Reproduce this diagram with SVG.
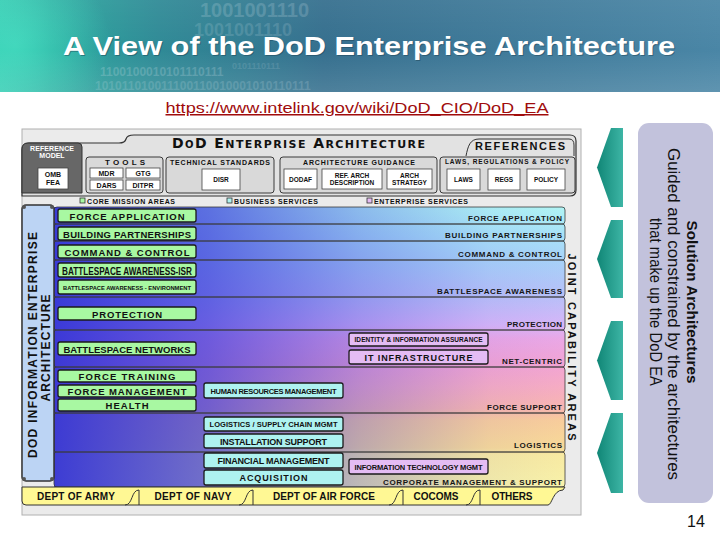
<svg xmlns="http://www.w3.org/2000/svg" width="720" height="540" viewBox="0 0 720 540">
<defs>
<linearGradient id="banner" x1="0" y1="0" x2="1" y2="0">
<stop offset="0" stop-color="#2fc6ae"/><stop offset="0.07" stop-color="#29a89e"/><stop offset="0.22" stop-color="#2f8a96"/><stop offset="0.45" stop-color="#356f8e"/><stop offset="1" stop-color="#4a86a6"/>
</linearGradient>
<linearGradient id="bannerV" x1="0" y1="0" x2="0" y2="1">
<stop offset="0" stop-color="#ffffff" stop-opacity="0.06"/><stop offset="0.55" stop-color="#ffffff" stop-opacity="0"/><stop offset="1" stop-color="#ffffff" stop-opacity="0.12"/>
</linearGradient>
<radialGradient id="swirl" gradientUnits="userSpaceOnUse" cx="15" cy="45" r="95">
<stop offset="0" stop-color="#45dcc0" stop-opacity="0.85"/><stop offset="1" stop-color="#45dcc0" stop-opacity="0"/>
</radialGradient>
<linearGradient id="bandV" gradientUnits="userSpaceOnUse" x1="0" y1="207" x2="0" y2="487">
<stop offset="0" stop-color="#b0f4f4"/><stop offset="0.1" stop-color="#a8e2f8"/><stop offset="0.2" stop-color="#a8d0f8"/><stop offset="0.32" stop-color="#b8c0f8"/><stop offset="0.42" stop-color="#d6b6f8"/><stop offset="0.47" stop-color="#eaa8e6"/><stop offset="0.56" stop-color="#f2a4d4"/><stop offset="0.64" stop-color="#f6acc4"/><stop offset="0.72" stop-color="#f8b6b0"/><stop offset="0.76" stop-color="#f8cc9c"/><stop offset="0.86" stop-color="#f8da98"/><stop offset="0.885" stop-color="#f8eaa2"/><stop offset="1" stop-color="#f8f2aa"/>
</linearGradient>
<linearGradient id="bandH" gradientUnits="userSpaceOnUse" x1="54" y1="0" x2="565" y2="0">
<stop offset="0" stop-color="#3333d6" stop-opacity="0.95"/><stop offset="0.3" stop-color="#3838d8" stop-opacity="0.7"/><stop offset="0.6" stop-color="#3838d8" stop-opacity="0.3"/><stop offset="0.85" stop-color="#3838d8" stop-opacity="0.05"/><stop offset="1" stop-color="#3838d8" stop-opacity="0"/>
</linearGradient>
<linearGradient id="arrowG" x1="0" y1="0" x2="1" y2="0">
<stop offset="0" stop-color="#108676"/><stop offset="1" stop-color="#3db5a5"/>
</linearGradient>
<style>
.f{font-family:"Liberation Sans",Arial,Helvetica,sans-serif}
.b{font-family:"Liberation Sans",Arial,Helvetica,sans-serif;font-weight:bold;fill:#111;text-anchor:middle}
.bl{font-family:"Liberation Sans",Arial,Helvetica,sans-serif;font-weight:bold;fill:#161616;font-size:8px;text-anchor:end}
.bin{font-family:"Liberation Sans",Arial,sans-serif;font-weight:bold;fill:#d4e4ec}
.grp{fill:#d9d9d9;stroke:#3a3a3a;stroke-width:1}
.wb{fill:#ffffff;stroke:#444;stroke-width:0.8}
.gb{fill:#a8f8a2;stroke:#1a1a1a;stroke-width:1.3}
.cb{fill:#aef2f0;stroke:#1a1a1a;stroke-width:1.3}
.pb{fill:#e4bcf4;stroke:#1a1a1a;stroke-width:1.3}
.band{fill:none;stroke:#3a3a3a;stroke-width:0.8}
.tab{fill:none;stroke:#333;stroke-width:1}
</style>
</defs>

<!-- header banner -->
<g id="banner-bg">
<rect x="0" y="0" width="720" height="92" fill="url(#banner)"/>
<rect x="0" y="0" width="720" height="92" fill="url(#swirl)"/>
<rect x="0" y="0" width="720" height="92" fill="url(#bannerV)"/>
<text class="bin" x="200" y="17" font-size="20" opacity="0.2">1001001110</text>
<text class="bin" x="194" y="35.5" font-size="18" opacity="0.16">1001001110</text>
<text class="bin" x="232" y="68.5" font-size="9" opacity="0.14">0101110111</text>
<text class="bin" x="100" y="75.5" font-size="12" opacity="0.22">1100100010101110111</text>
<text class="bin" x="95" y="89.5" font-size="12" opacity="0.18">101011010011100110010001010110111</text>
</g>
<g id="title">
<text class="f" x="370" y="56" font-size="26" font-weight="bold" fill="#1d3f50" opacity="0.45" text-anchor="middle" textLength="612" lengthAdjust="spacingAndGlyphs">A View of the DoD Enterprise Architecture</text>
<text class="f" x="369" y="55" font-size="26" font-weight="bold" fill="#ffffff" text-anchor="middle" textLength="612" lengthAdjust="spacingAndGlyphs">A View of the DoD Enterprise Architecture</text>
</g>
<g id="url">
<text class="f" x="357" y="113" font-size="15" fill="#a00c0c" text-anchor="middle" text-decoration="underline" textLength="383" lengthAdjust="spacingAndGlyphs">https://www.intelink.gov/wiki/DoD_CIO/DoD_EA</text>
</g>

<!-- main diagram frame -->
<g id="ea-frame">
<rect x="22" y="129" width="559" height="386" fill="#ebebeb" stroke="#b0b0b0" stroke-width="1"/>
<path d="M22,196 V150 Q22,143 29,143 H119 Q125,143 126,139 Q127,135 134,135 H570 Q576,135 576,141 V190 Q576,196 570,196 Z" fill="#e2e2e2" stroke="#333" stroke-width="1.2"/>
<path d="M466,156 C468,146 470,139 479,139 H569 Q574,139 574,145 V156" fill="none" stroke="#333" stroke-width="1"/>
<text class="b" x="172" y="148" font-size="14" textLength="253" lengthAdjust="spacing" style="font-family:'DejaVu Sans','Liberation Sans',sans-serif;text-anchor:start">D<tspan style="font-variant:small-caps">o</tspan>D E<tspan font-size="11">NTERPRISE</tspan> A<tspan font-size="11">RCHITECTURE</tspan></text>
<text class="b" x="520" y="150" font-size="11" textLength="90" lengthAdjust="spacing">REFERENCES</text>
</g>

<g id="reference-model">
<path d="M22,193 V149 Q22,143 28,143 H78 Q82,143 82,147 V193 Z" fill="#676767" stroke="#333" stroke-width="1"/>
<text class="b" x="52" y="151" font-size="7" style="fill:#fff" textLength="44" lengthAdjust="spacing">REFERENCE</text>
<text class="b" x="52" y="158" font-size="7" style="fill:#fff">MODEL</text>
<rect x="38" y="168" width="30" height="21" class="wb"/>
<text class="b" x="53" y="177" font-size="7">OMB</text>
<text class="b" x="53" y="185" font-size="7">FEA</text>
</g>

<g id="tools">
<rect x="86" y="157" width="77" height="36" rx="3" class="grp"/>
<text class="b" x="125" y="164.5" font-size="8" textLength="40" lengthAdjust="spacing">TOOLS</text>
<rect x="90" y="168" width="33" height="10" class="wb"/><text class="b" x="106.5" y="175.5" font-size="7">MDR</text>
<rect x="126" y="168" width="34" height="10" class="wb"/><text class="b" x="143" y="175.5" font-size="7">GTG</text>
<rect x="90" y="180" width="33" height="10" class="wb"/><text class="b" x="106.5" y="187.5" font-size="7">DARS</text>
<rect x="126" y="180" width="34" height="10" class="wb"/><text class="b" x="143" y="187.5" font-size="7">DITPR</text>
</g>

<g id="technical-standards">
<rect x="166" y="157" width="108" height="36" rx="3" class="grp"/>
<text class="b" x="220" y="164.5" font-size="7" textLength="100" lengthAdjust="spacing">TECHNICAL STANDARDS</text>
<rect x="202" y="169" width="38" height="21" class="wb"/><text class="b" x="221" y="182" font-size="6.5">DISR</text>
</g>

<g id="architecture-guidance">
<rect x="280" y="157" width="157" height="36" rx="3" class="grp"/>
<text class="b" x="359" y="164.5" font-size="7" textLength="112" lengthAdjust="spacing">ARCHITECTURE GUIDANCE</text>
<rect x="284" y="169" width="33" height="20" class="wb"/><text class="b" x="300.5" y="181.5" font-size="6.5">DODAF</text>
<rect x="322" y="169" width="60" height="20" class="wb"/><text class="b" x="352" y="177.5" font-size="6.5">REF. ARCH</text><text class="b" x="352" y="185" font-size="6.5">DESCRIPTION</text>
<rect x="387" y="169" width="45" height="20" class="wb"/><text class="b" x="409.5" y="177.5" font-size="6.5">ARCH</text><text class="b" x="409.5" y="185" font-size="6.5">STRATEGY</text>
</g>

<g id="laws-regulations-policy">
<rect x="440" y="157" width="135" height="36" rx="3" class="grp"/>
<text class="b" x="507" y="164" font-size="6.5" textLength="124" lengthAdjust="spacing">LAWS, REGULATIONS &amp; POLICY</text>
<rect x="447" y="169" width="33" height="21" class="wb"/><text class="b" x="463.5" y="182" font-size="6.5">LAWS</text>
<rect x="488" y="169" width="32" height="21" class="wb"/><text class="b" x="504" y="182" font-size="6.5">REGS</text>
<rect x="527" y="169" width="38" height="21" class="wb"/><text class="b" x="546" y="182" font-size="6.5">POLICY</text>
</g>

<g id="legend">
<rect x="80" y="198" width="5" height="5" fill="#a8f8a2" stroke="#333" stroke-width="0.8"/>
<text class="b" x="87" y="204" font-size="7" style="text-anchor:start" textLength="88" lengthAdjust="spacing">CORE MISSION AREAS</text>
<rect x="227" y="198" width="5" height="5" fill="#aef2f0" stroke="#333" stroke-width="0.8"/>
<text class="b" x="234" y="204" font-size="7" style="text-anchor:start" textLength="84" lengthAdjust="spacing">BUSINESS SERVICES</text>
<rect x="367" y="198" width="5" height="5" fill="#e4bcf4" stroke="#333" stroke-width="0.8"/>
<text class="b" x="374" y="204" font-size="7" style="text-anchor:start" textLength="94" lengthAdjust="spacing">ENTERPRISE SERVICES</text>
</g>

<!-- joint capability area bands -->
<g id="jca-bands">
<rect x="54" y="207" width="511" height="280" fill="url(#bandV)"/>
<rect x="54" y="207" width="511" height="280" fill="url(#bandH)"/>
<rect x="54" y="207" width="511" height="17" rx="3" class="band"/>
<rect x="54" y="224" width="511" height="17" rx="3" class="band"/>
<rect x="54" y="241" width="511" height="19" rx="3" class="band"/>
<rect x="54" y="260" width="511" height="37" rx="3" class="band"/>
<rect x="54" y="297" width="511" height="33" rx="3" class="band"/>
<rect x="54" y="330" width="511" height="37" rx="3" class="band"/>
<rect x="54" y="367" width="511" height="46" rx="3" class="band"/>
<rect x="54" y="413" width="511" height="39" rx="3" class="band"/>
<rect x="54" y="452" width="511" height="35" rx="3" class="band"/>
<text class="bl" x="562" y="221" textLength="94" lengthAdjust="spacing">FORCE APPLICATION</text>
<text class="bl" x="562" y="238" textLength="117" lengthAdjust="spacing">BUILDING PARTNERSHIPS</text>
<text class="bl" x="562" y="257" textLength="104" lengthAdjust="spacing">COMMAND &amp; CONTROL</text>
<text class="bl" x="562" y="294" textLength="125" lengthAdjust="spacing">BATTLESPACE AWARENESS</text>
<text class="bl" x="562" y="327" textLength="55" lengthAdjust="spacing">PROTECTION</text>
<text class="bl" x="562" y="364" textLength="60" lengthAdjust="spacing">NET-CENTRIC</text>
<text class="bl" x="562" y="410" textLength="75" lengthAdjust="spacing">FORCE SUPPORT</text>
<text class="bl" x="562" y="448" textLength="48" lengthAdjust="spacing">LOGISTICS</text>
<text class="bl" x="562" y="485" textLength="179" lengthAdjust="spacing">CORPORATE MANAGEMENT &amp; SUPPORT</text>
</g>

<g id="jca-label">
<text class="b" transform="translate(568,347) rotate(90)" font-size="11" textLength="187" lengthAdjust="spacing">JOINT CAPABILITY AREAS</text>
</g>

<g id="diea-bar">
<rect x="22" y="205" width="32" height="276" rx="4" fill="#bcd4f4" stroke="#333" stroke-width="1.5"/>
<circle cx="24" cy="207" r="2" fill="#555"/><circle cx="52" cy="207" r="2" fill="#555"/>
<circle cx="24" cy="479" r="2" fill="#555"/><circle cx="52" cy="479" r="2" fill="#555"/>
<text class="b" transform="translate(37,345) rotate(-90)" font-size="12" textLength="226" lengthAdjust="spacing">DOD INFORMATION ENTERPRISE</text>
<text class="b" transform="translate(50,348) rotate(-90)" font-size="12" textLength="107" lengthAdjust="spacing">ARCHITECTURE</text>
</g>

<!-- core mission areas -->
<g id="cma-force-application"><rect x="58" y="209" width="138" height="13" rx="2" class="gb"/><text class="b" x="127" y="219.5" font-size="9.5" textLength="115" lengthAdjust="spacing">FORCE APPLICATION</text></g>
<g id="cma-building-partnerships"><rect x="58" y="227" width="138" height="13" rx="2" class="gb"/><text class="b" x="127" y="237.5" font-size="9.5" textLength="128" lengthAdjust="spacing">BUILDING PARTNERSHIPS</text></g>
<g id="cma-command-control"><rect x="58" y="245" width="138" height="13" rx="2" class="gb"/><text class="b" x="127" y="255.5" font-size="9.5" textLength="125" lengthAdjust="spacing">COMMAND &amp; CONTROL</text></g>
<g id="cma-ba-isr"><rect x="58" y="263" width="138" height="14" rx="2" class="gb"/><text class="b" x="127" y="274.5" font-size="11" textLength="130" lengthAdjust="spacingAndGlyphs">BATTLESPACE AWARENESS-ISR</text></g>
<g id="cma-ba-env"><rect x="58" y="280" width="138" height="14" rx="2" class="gb"/><text class="b" x="127" y="289.5" font-size="6" textLength="128" lengthAdjust="spacingAndGlyphs">BATTLESPACE AWARENESS - ENVIRONMENT</text></g>
<g id="cma-protection"><rect x="58" y="307" width="138" height="13" rx="2" class="gb"/><text class="b" x="127" y="317.5" font-size="9.5" textLength="70" lengthAdjust="spacing">PROTECTION</text></g>
<g id="cma-battlespace-networks"><rect x="58" y="342" width="138" height="13" rx="2" class="gb"/><text class="b" x="127" y="352.5" font-size="9.5" textLength="127" lengthAdjust="spacing">BATTLESPACE NETWORKS</text></g>
<g id="cma-force-training"><rect x="58" y="370" width="138" height="12" rx="2" class="gb"/><text class="b" x="127" y="380" font-size="9.5" textLength="97" lengthAdjust="spacing">FORCE TRAINING</text></g>
<g id="cma-force-management"><rect x="58" y="385" width="138" height="12" rx="2" class="gb"/><text class="b" x="127" y="395" font-size="9.5" textLength="119" lengthAdjust="spacing">FORCE MANAGEMENT</text></g>
<g id="cma-health"><rect x="58" y="399" width="138" height="12" rx="2" class="gb"/><text class="b" x="127" y="409" font-size="9.5" textLength="43" lengthAdjust="spacing">HEALTH</text></g>

<!-- business services -->
<g id="bs-hrm"><rect x="204" y="383" width="139" height="15" rx="2" class="cb"/><text class="b" x="273.5" y="393.5" font-size="7.5" textLength="126" lengthAdjust="spacing">HUMAN RESOURCES MANAGEMENT</text></g>
<g id="bs-logistics"><rect x="204" y="417" width="139" height="14" rx="2" class="cb"/><text class="b" x="273.5" y="427" font-size="7.5" textLength="128" lengthAdjust="spacing">LOGISTICS / SUPPLY CHAIN MGMT</text></g>
<g id="bs-installation"><rect x="204" y="434" width="139" height="14" rx="2" class="cb"/><text class="b" x="273.5" y="444.5" font-size="9" textLength="107" lengthAdjust="spacing">INSTALLATION SUPPORT</text></g>
<g id="bs-financial"><rect x="204" y="453" width="139" height="15" rx="2" class="cb"/><text class="b" x="273.5" y="463.5" font-size="9" textLength="112" lengthAdjust="spacing">FINANCIAL MANAGEMENT</text></g>
<g id="bs-acquisition"><rect x="204" y="470" width="139" height="15" rx="2" class="cb"/><text class="b" x="273.5" y="481" font-size="9" textLength="68" lengthAdjust="spacing">ACQUISITION</text></g>

<!-- enterprise services -->
<g id="es-identity"><rect x="349" y="333" width="139" height="13" rx="2" class="pb"/><text class="b" x="418.5" y="342" font-size="6.5" textLength="128" lengthAdjust="spacing">IDENTITY &amp; INFORMATION ASSURANCE</text></g>
<g id="es-it-infrastructure"><rect x="349" y="350" width="139" height="14" rx="2" class="pb"/><text class="b" x="418.5" y="360.5" font-size="9" textLength="108" lengthAdjust="spacing">IT INFRASTRUCTURE</text></g>
<g id="es-itm"><rect x="349" y="459" width="139" height="15" rx="2" class="pb"/><text class="b" x="418.5" y="469.5" font-size="7.5" textLength="128" lengthAdjust="spacing">INFORMATION TECHNOLOGY MGMT</text></g>

<!-- component tabs -->
<g id="component-tabs">
<path d="M22,487 H565 L563,490 C553,490 552,505 548,505 H26 Q22,505 22,501 Z" fill="#fff894" stroke="#333" stroke-width="1"/>
<path class="tab" d="M125,505 C133,505 131,490 139,490 V505"/>
<path class="tab" d="M239,505 C247,505 245,490 253,490 V505"/>
<path class="tab" d="M389,505 C397,505 395,490 403,490 V505"/>
<path class="tab" d="M466,505 C474,505 472,490 480,490 V505"/>
<text class="b" x="76" y="500" font-size="10" textLength="78" lengthAdjust="spacing">DEPT OF ARMY</text>
<text class="b" x="193" y="500" font-size="10" textLength="77" lengthAdjust="spacing">DEPT OF NAVY</text>
<text class="b" x="324" y="500" font-size="10" textLength="102" lengthAdjust="spacing">DEPT OF AIR FORCE</text>
<text class="b" x="436" y="500" font-size="10" textLength="45" lengthAdjust="spacing">COCOMS</text>
<text class="b" x="512" y="500" font-size="10" textLength="41" lengthAdjust="spacing">OTHERS</text>
</g>

<!-- arrows from solution architectures -->
<g id="connectors">
<polygon points="611,128 623,128 623,207 611,207 597,167.5" fill="url(#arrowG)"/>
<polygon points="611,220 623,220 623,298 611,298 597,259" fill="url(#arrowG)"/>
<polygon points="611,321 623,321 623,400 611,400 597,360.5" fill="url(#arrowG)"/>
<polygon points="611,413 623,413 623,493 611,493 597,453" fill="url(#arrowG)"/>
</g>

<g id="solution-architectures">
<rect x="638" y="123" width="75" height="380" rx="11" fill="#c2c2dc"/>
<text class="f" transform="translate(687,302) rotate(90)" font-size="15" font-weight="bold" fill="#111" text-anchor="middle" textLength="163" lengthAdjust="spacingAndGlyphs">Solution Architectures</text>
<text class="f" transform="translate(668,314) rotate(90)" font-size="16.5" fill="#111" text-anchor="middle" textLength="332" lengthAdjust="spacingAndGlyphs">Guided and constrained by the architectures</text>
<text class="f" transform="translate(650,302) rotate(90)" font-size="16.5" fill="#111" text-anchor="middle" textLength="168" lengthAdjust="spacingAndGlyphs">that make up the DoD EA</text>
</g>

<g id="page-number">
<text class="f" x="696" y="527" font-size="16" fill="#111" text-anchor="middle">14</text>
</g>
</svg>
